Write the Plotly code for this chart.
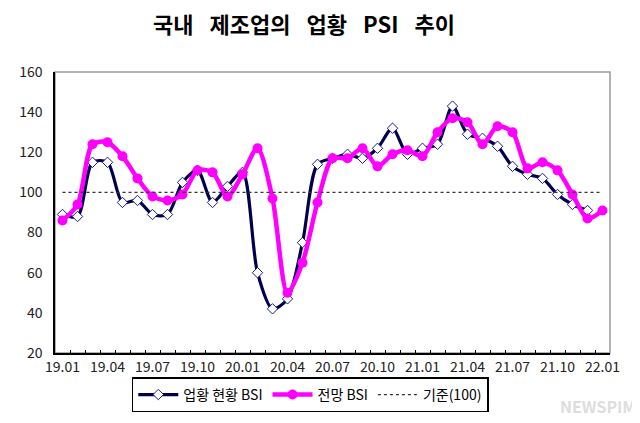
import plotly.graph_objects as go

months = ["19.01", "19.02", "19.03", "19.04", "19.05", "19.06", "19.07", "19.08", "19.09",
          "19.10", "19.11", "19.12", "20.01", "20.02", "20.03", "20.04", "20.05", "20.06",
          "20.07", "20.08", "20.09", "20.10", "20.11", "20.12", "21.01", "21.02", "21.03",
          "21.04", "21.05", "21.06", "21.07", "21.08", "21.09", "21.10", "21.11", "21.12",
          "22.01"]

# 업황 현황 BSI (21.12까지)
current_bsi = [89, 88, 115, 115, 95, 96, 89, 89, 105, 111, 95, 103,
               110, 60, 42, 47, 75, 114, 117, 119, 117, 122, 132, 119,
               122, 124, 143, 129, 127, 123, 113, 109, 107, 99, 94, 91]

# 전망 BSI
outlook_bsi = [86, 94, 124, 125, 118, 107, 98, 96, 99, 111, 110, 98,
               109, 122, 97, 50, 65, 95, 117, 117, 122, 113, 119, 121,
               118, 130, 137, 135, 124, 133, 130, 112, 115, 111, 99, 87,
               91]

base_line = 100
tick_step = 3

x_cur = list(range(len(current_bsi)))
x_out = list(range(len(outlook_bsi)))
n = len(months)

fig = go.Figure()

fig.add_trace(go.Scatter(
    x=x_cur, y=current_bsi, name="업황 현황 BSI", mode="lines+markers",
    line=dict(color="#00004d", width=3.2, shape="spline", smoothing=0.8),
    marker=dict(symbol="diamond", size=8, color="white",
                line=dict(color="#1a1a8c", width=1)),
))
fig.add_trace(go.Scatter(
    x=x_out, y=outlook_bsi, name="전망 BSI", mode="lines+markers",
    line=dict(color="#ff00ff", width=4.5, shape="spline", smoothing=0.8),
    marker=dict(symbol="circle", size=10, color="#ff00ff"),
))
fig.add_trace(go.Scatter(
    x=[0, n - 1], y=[base_line, base_line], name="기준(100)", mode="lines",
    line=dict(color="#333333", width=1.2, dash="dot"),
))

# 오른쪽/위쪽 회색 테두리
fig.add_shape(type="rect", xref="paper", yref="paper", x0=0, y0=0, x1=1, y1=1,
              line=dict(color="#999999", width=1.5), layer="below")

gap = "\u2002 "
title = gap.join(["국내", "제조업의", "업황", "PSI", "추이"])

# page body has an 8px margin, so margins are shifted by that
fig.update_layout(
    width=640, height=423,
    margin=dict(l=47, r=38, t=64, b=78),
    paper_bgcolor="white", plot_bgcolor="white",
    font=dict(family="Noto Sans CJK KR", size=14, color="#222222"),
    title=dict(text="<b>" + title + "</b>", x=0.4625, xanchor="center",
               y=0.958, yanchor="middle",
               font=dict(family="Noto Sans CJK KR", size=22, color="black")),
    showlegend=True,
    legend=dict(orientation="h", x=0.46, xanchor="center", y=-0.087, yanchor="top",
                bordercolor="black", borderwidth=1.5, bgcolor="white",
                font=dict(size=14, color="black"), itemwidth=40,
                tracegroupgap=0),
)

fig.update_xaxes(
    range=[-0.5, n - 0.5],
    tickmode="array",
    tickvals=list(range(0, n, tick_step)),
    ticktext=months[::tick_step],
    ticks="", showgrid=False, zeroline=False,
    showline=True, linecolor="black", linewidth=1.5,
    tickfont=dict(size=14, color="#222222"),
    minor=dict(tickmode="array", tickvals=[k - 0.5 for k in range(1, n)],
               ticks="inside", ticklen=3, tickcolor="black", showgrid=False),
)
fig.update_yaxes(
    range=[20, 160], dtick=20,
    ticks="", showgrid=False, zeroline=False, ticklabelstandoff=8,
    showline=True, linecolor="black", linewidth=1.5,
    tickfont=dict(size=14, color="#222222"),
)

fig.add_annotation(text="<b>NEWSPIM</b>", xref="paper", yref="paper", x=1.05, y=-0.187,
                   xanchor="right", yanchor="middle", showarrow=False,
                   font=dict(size=16, color="#dddddd"))

fig.write_html("out.html")
